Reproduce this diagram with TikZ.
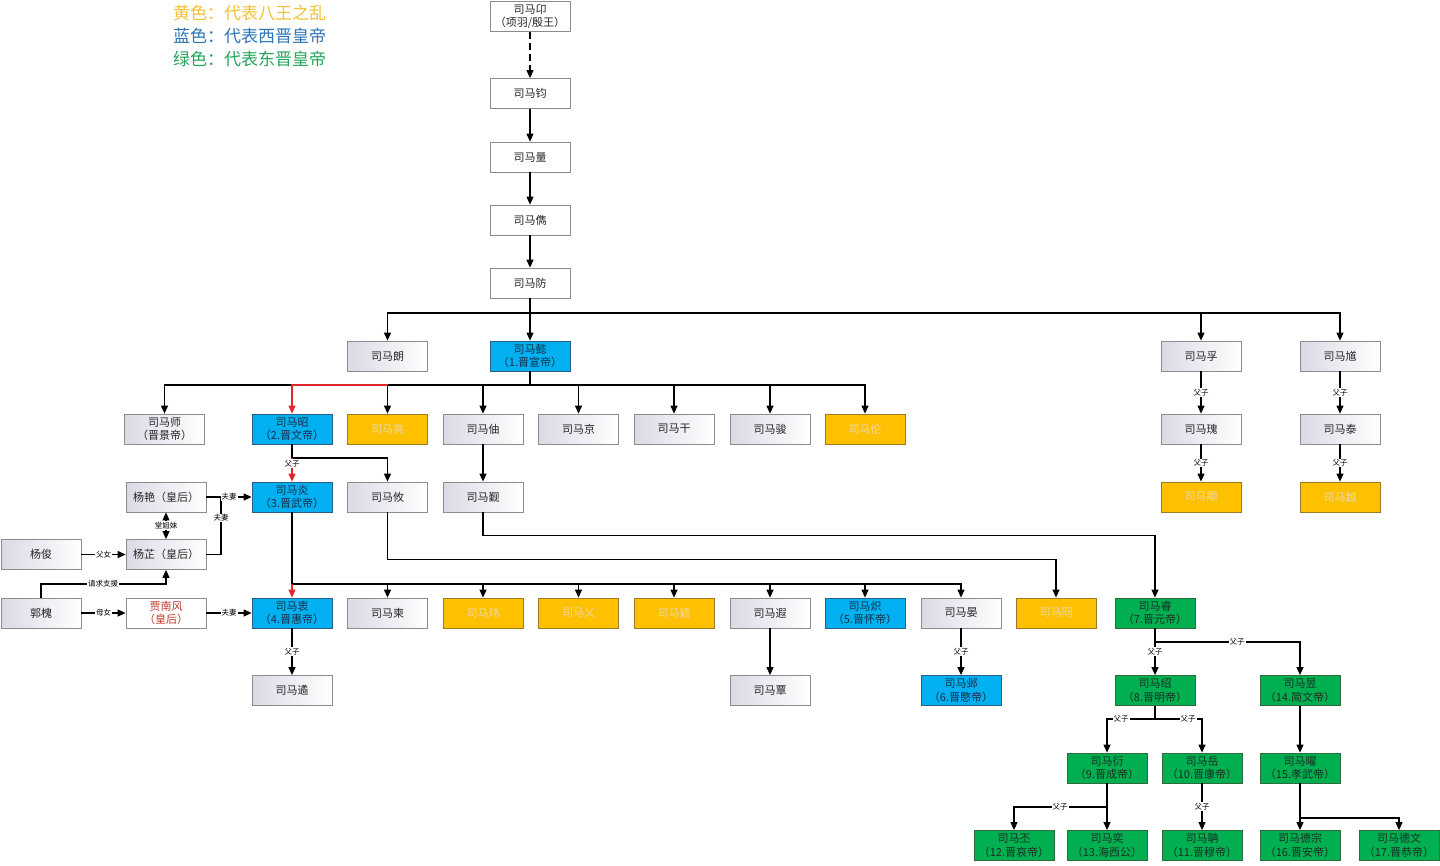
\documentclass[tikz,border=0pt]{standalone}
\usepackage{fontspec}
\newfontfamily\cjk{Noto Sans CJK SC}
\usetikzlibrary{arrows.meta,calc}
\definecolor{boxgray}{HTML}{8C8C8C}
\definecolor{gradl}{HTML}{DADAE6}
\definecolor{txt}{HTML}{262626}
\definecolor{yfill}{HTML}{FFC000}
\definecolor{yborder}{HTML}{9C7A24}
\definecolor{ytext}{HTML}{EADBAE}
\definecolor{bfill}{HTML}{00B0F0}
\definecolor{bborder}{HTML}{2B5F87}
\definecolor{btext}{HTML}{1A2E48}
\definecolor{nfill}{HTML}{00B050}
\definecolor{nborder}{HTML}{2F6B3D}
\definecolor{ntext}{HTML}{1A2E24}
\definecolor{redline}{HTML}{E3262B}
\definecolor{jiatext}{HTML}{C0392B}
\definecolor{legy}{HTML}{F2C233}
\definecolor{legb}{HTML}{2E75B6}
\definecolor{legg}{HTML}{23A659}
\begin{document}
\begin{tikzpicture}[x=1pt,y=-1pt,
  base/.style={minimum width=80pt,minimum height=30pt,inner sep=0pt,align=center,
    font=\cjk\fontsize{11}{13.5}\selectfont,line width=0.8pt},
  wbox/.style={base,draw=boxgray,fill=white,text=txt},
  gbox/.style={base,draw=boxgray,left color=gradl,right color=white,text=txt},
  ybox/.style={base,draw=yborder,fill=yfill,text=ytext},
  bbox/.style={base,draw=bborder,fill=bfill,text=btext},
  nbox/.style={base,draw=nborder,fill=nfill,text=ntext},
  conn/.style={line width=1.1pt,draw=black},
  arr/.style={conn,-{Triangle[length=8pt,width=7pt]}},
  redarr/.style={line width=1.1pt,draw=redline,-{Triangle[length=8pt,width=7pt]}},
  lab/.style={font=\cjk\fontsize{7.5}{9}\selectfont,fill=white,inner sep=1pt,text=black},
  leg/.style={anchor=west,font=\cjk\fontsize{17}{20}\selectfont,inner sep=0pt}
]
\useasboundingbox (0,0) rectangle (1440,865);
\fill[white] (0,0) rectangle (1440,865);

% legend
\node[leg,text=legy] (lg1) at (173,13) {黄色：代表八王之乱};
\node[leg,text=legb] (lg2) at (173,36) {蓝色：代表西晋皇帝};
\node[leg,text=legg] (lg3) at (173,59) {绿色：代表东晋皇帝};

% top chain
\node[wbox] (yin) at (530,16.5) {司马卬\\（项羽/殷王）};
\node[wbox] (jun) at (530,93.5) {司马钧};
\node[wbox] (liang) at (530,157) {司马量};
\node[wbox] (jun2) at (530,220) {司马儁};
\node[wbox] (fang) at (530,283) {司马防};

% row 2
\node[gbox] (lang) at (387.5,356) {司马朗};
\node[bbox] (yi) at (530,356) {司马懿\\（1.晋宣帝）};
\node[gbox] (fu) at (1201,356) {司马孚};
\node[gbox] (kui) at (1340,356) {司马馗};

% row 3
\node[gbox] (shi) at (164.5,429) {司马师\\（晋景帝）};
\node[bbox] (zhao) at (292,429) {司马昭\\（2.晋文帝）};
\node[ybox] (liangx) at (387.5,429) {司马亮};
\node[gbox] (zhou) at (483,429) {司马伷};
\node[gbox] (jing) at (578.5,429) {司马京};
\node[gbox] (gan) at (674,429) {司马干};
\node[gbox] (jun3) at (770,429) {司马骏};
\node[ybox] (lun) at (865,429) {司马伦};
\node[gbox] (gui) at (1201,429) {司马瑰};
\node[gbox] (tai) at (1340,429) {司马泰};

% row 4
\node[gbox] (yanY) at (166,497) {杨艳（皇后）};
\node[bbox] (yan) at (292,497) {司马炎\\（3.晋武帝）};
\node[gbox] (you) at (387.5,497) {司马攸};
\node[gbox] (jin) at (483,497) {司马觐};
\node[ybox] (yong) at (1201,497) {司马颙};
\node[ybox] (yue) at (1340,497) {司马越};

% row 5
\node[gbox] (yangjun) at (41,554.5) {杨俊};
\node[gbox] (yangzhi) at (166,554.5) {杨芷（皇后）};

% row 6
\node[gbox] (guohuai) at (41,613) {郭槐};
\node[wbox,text=jiatext] (jia) at (166,613) {贾南风\\（皇后）};
\node[bbox] (zhong) at (292,613) {司马衷\\（4.晋惠帝）};
\node[gbox] (jian) at (387.5,613) {司马柬};
\node[ybox] (wei) at (483,613) {司马玮};
\node[ybox] (yi2) at (578.5,613) {司马乂};
\node[ybox] (ying) at (674,613) {司马颖};
\node[gbox] (xia) at (770,613) {司马遐};
\node[bbox] (chi) at (865,613) {司马炽\\（5.晋怀帝）};
\node[gbox] (yanS) at (961,613) {司马晏};
\node[ybox] (jiong) at (1056,613) {司马冏};
\node[nbox] (rui) at (1155,613) {司马睿\\（7.晋元帝）};

% row 7
\node[gbox] (yu) at (292,690.5) {司马遹};
\node[gbox] (tan) at (770,690.5) {司马覃};
\node[bbox] (ye) at (961,690.5) {司马邺\\（6.晋愍帝）};
\node[nbox] (shao) at (1155,690.5) {司马绍\\（8.晋明帝）};
\node[nbox] (yu2) at (1300,690.5) {司马昱\\（14.简文帝）};

% row 8
\node[nbox] (yan3) at (1107,768) {司马衍\\（9.晋成帝）};
\node[nbox] (yue2) at (1202,768) {司马岳\\（10.晋康帝）};
\node[nbox] (yao) at (1300,768) {司马曜\\（15.孝武帝）};

% row 9
\node[nbox] (pi) at (1014,845.5) {司马丕\\（12.晋哀帝）};
\node[nbox] (yi3) at (1107,845.5) {司马奕\\（13.海西公）};
\node[nbox] (dan) at (1202,845.5) {司马聃\\（11.晋穆帝）};
\node[nbox] (dezong) at (1300,845.5) {司马德宗\\（16.晋安帝）};
\node[nbox] (dewen) at (1399,845.5) {司马德文\\（17.晋恭帝）};

% ---------- connectors ----------
\draw[arr,dash pattern=on 7pt off 4pt] (yin) -- (jun);
\draw[arr] (jun) -- (liang);
\draw[arr] (liang) -- (jun2);
\draw[arr] (jun2) -- (fang);

\coordinate (fb) at (530,313);
\draw[arr] (fang) -- (yi);
\draw[arr] (fb) -| (lang.north);
\draw[arr] (fb) -| (fu.north);
\draw[arr] (fb) -| (kui.north);

% children of yi
\coordinate (yb) at (530,385);
\draw[conn] (yi) -- (yb);
\foreach \c in {shi,liangx,zhou,jing,gan,jun3,lun}{\draw[arr] (yb) -| (\c.north);}
\draw[redarr] (liangx.north |- yb) -| (zhao.north);

% zhao
\coordinate (zb) at (292,458);
\draw[conn] (zhao) -- (zb);
\draw[arr] (zb) -| (you.north);
\draw[redarr] (zb) -- (yan.north) node[lab,pos=0.22]{父子};

% yan
\coordinate (yab) at (292,584);
\foreach \c in {jian,wei,yi2,ying,xia,chi,yanS}{\draw[arr] (yab) -| (\c.north);}
\draw[conn,line width=1.9pt] (yan) -- (yab);
\draw[redarr] (yab) -- (zhong.north);

% you, zhou, jin
\draw[arr] (you.south) -- ++(0,47.5) -| (jiong.north);
\draw[arr] (zhou) -- (jin);
\draw[arr] (jin.south) -- ++(0,23) -| (rui.north);

% right families
\draw[arr] (fu) -- (gui) node[lab,midway]{父子};
\draw[arr] (gui) -- (yong) node[lab,midway]{父子};
\draw[arr] (kui) -- (tai) node[lab,midway]{父子};
\draw[arr] (tai) -- (yue) node[lab,midway]{父子};

% Yang family
\coordinate (zj) at (221,497);
\draw[conn] (yangzhi.east) -| (zj);
\node[lab] at (221,518) {夫妻};
\draw[arr] (yanY) -- (yan) node[lab,pos=0.5]{夫妻};
\draw[conn,{Triangle[length=8pt,width=7pt]}-{Triangle[length=8pt,width=7pt]}] (yanY) -- (yangzhi) node[lab,midway]{堂姐妹};
\draw[arr] (yangjun) -- (yangzhi) node[lab,midway]{父女};
\draw[arr] (guohuai) -- (jia) node[lab,midway]{母女};
\coordinate (gq) at (166,584);
\draw[arr] (guohuai.north) |- (gq) -- (yangzhi.south);
\node[lab] at (103,584) {请求支援};
\draw[arr] (jia) -- (zhong) node[lab,midway]{夫妻};

% lower generations
\draw[arr] (zhong) -- (yu) node[lab,midway]{父子};
\draw[arr] (xia) -- (tan);
\draw[arr] (yanS) -- (ye) node[lab,midway]{父子};
\draw[arr] (rui) -- (shao) node[lab,midway]{父子};
\coordinate (rb) at (1155,642);
\draw[arr] (rb) -| (yu2.north);
\node[lab] at (1237,642) {父子};

\coordinate (sb) at (1155,719);
\draw[conn] (shao) -- (sb);
\draw[arr] (sb) -| (yan3.north);
\draw[arr] (sb) -| (yue2.north);
\node[lab] at (1121,719) {父子};
\node[lab] at (1188,719) {父子};

\draw[arr] (yu2) -- (yao);

\draw[arr] (yan3) -- (yi3);
\coordinate (y3b) at (1107,807);
\draw[arr] (y3b) -| (pi.north);
\node[lab] at (1060,807) {父子};

\draw[arr] (yue2) -- (dan) node[lab,midway]{父子};

\draw[arr] (yao) -- (dezong);
\coordinate (yob) at (1300,818);
\draw[arr] (yob) -| (dewen.north);
\end{tikzpicture}
\end{document}
